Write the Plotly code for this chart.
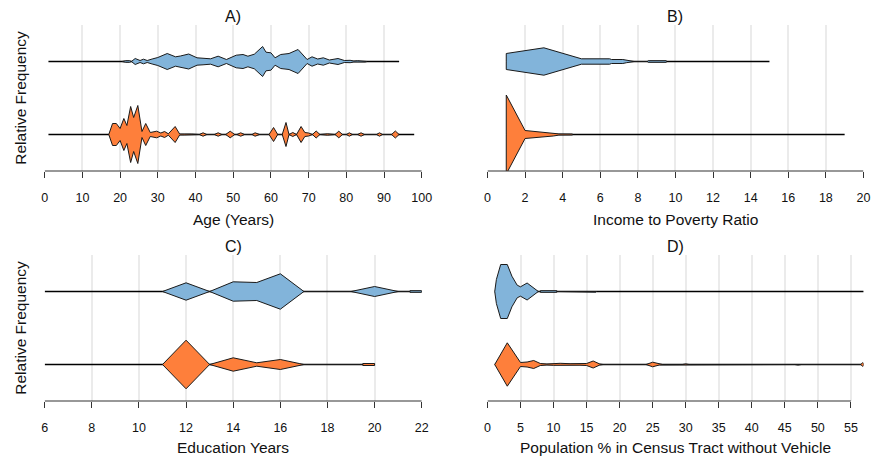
import plotly.graph_objects as go

W, H = 883, 456
BLUE = "#82b4da"
ORANGE = "#fe7f3b"
FONT = "Liberation Sans, Arial, sans-serif"

# relative frequency -> half-width of the violin in y-axis units
WIDTH_SCALE = 1 / 73.0

# ---------------- A) Age ----------------
age_blue_x = [20.5, 21.5, 22.5, 23, 24, 25.3, 26.2, 27.2, 28.5, 30, 32.5, 34.7, 36, 38.2,
              40.4, 42, 44, 46, 48.2, 50.8, 52.6, 53.9, 55.6, 57.8, 58.7, 60, 61.1, 62.6,
              64.8, 67.2, 69.6, 70.9, 72.4, 73.9, 75.5, 77.8, 79.5, 81, 82, 83, 84, 85, 85.5]
age_blue_f = [0, 0.8, 0.8, 0, 3, 1, 2.3, 1, 2.5, 4, 8, 4.7, 5.5, 7.5,
              3.7, 3.3, 2.7, 5.3, 2, 6.3, 7, 5.3, 7.3, 15, 9.3, 8.7, 3.7, 7,
              8, 12, 2, 4.7, 2.5, 3.7, 1.5, 3, 1, 1.2, 0.5, 0.8, 0.3, 0.5, 0]
age_orange_x = [17, 18, 19, 20, 21, 21.8, 22.8, 23.6, 24.7, 25.8, 26.8, 28, 29.7, 30.8, 31.8,
                32.8, 34.6, 35.8, 37, 38, 39, 41, 42, 43, 45, 46, 47, 48, 49.2, 50.4, 51,
                52, 53, 55, 55.8, 57, 59.5, 60.7, 61.8, 63, 64, 64.8, 65.8, 66.8, 68, 69,
                70, 71, 72, 73, 75, 77, 78, 79, 80, 80.8, 81.6, 83, 83.9, 84.8, 88, 88.8,
                89.6, 92, 93, 94]
age_orange_f = [0, 11, 11, 6, 16, 9, 28, 17, 29, 3, 11, 2, 3.3, 1.5, 3,
                0.7, 8, 0.5, 0.5, 0.8, 0.5, 0, 1.7, 0, 0, 1.7, 0, 0, 3.3, 0, 0,
                1.7, 0, 0, 1.7, 0, 0, 7, 0, 0, 12, 0, 2, 0, 8, 2,
                1.5, 0, 3.5, 0, 0.7, 0, 3.3, 0, 0, 1.7, 0, 0, 1.7, 0, 0, 1.7,
                0, 0, 3.5, 0]
age_blue_span = [1, 94]
age_orange_span = [1, 98]
age_ticks = list(range(0, 101, 10))

# ---------------- B) Income to poverty ratio ----------------
ipr_blue_x = [1, 1, 3, 5, 6.5, 6.6, 7.2, 7.4, 7.8, 8.5, 8.55, 9.5, 9.55]
ipr_blue_f = [0, 8, 13.7, 2.7, 2.7, 2, 2, 1.2, 0, 0, 0.8, 0.8, 0]
ipr_orange_x = [1, 1, 2, 3, 3.5, 3.8, 4.5, 4.55]
ipr_orange_f = [0, 39.5, 4, 2.5, 1.5, 0.6, 0.5, 0]
ipr_blue_span = [1, 15]
ipr_orange_span = [1, 19]
ipr_ticks = list(range(0, 21, 2))

# ---------------- C) Education years ----------------
edu_blue_x = [11, 12, 13, 14, 15, 16, 17, 19, 20, 21, 21.5, 21.5, 22]
edu_blue_f = [0, 8.7, 0, 9.7, 9, 17.7, 0, 0, 5, 0, 0, 0.8, 0.8]
edu_orange_x = [11, 12, 13, 14, 15, 16, 16.8, 17, 19.5, 19.5, 20]
edu_orange_f = [0, 24.3, 0, 6.7, 1.7, 5, 1, 0, 0, 1, 1]
edu_blue_span = [6, 22]
edu_orange_span = [6, 20]
edu_ticks = list(range(6, 23, 2))

# ---------------- D) Population % without vehicle ----------------
veh_blue_x = [1.1, 1.35, 2, 3, 3.7, 4.5, 5, 6, 7.7, 8, 8, 10.5, 10.5, 13.5, 13.6, 14.3,
              14.4, 15.5, 15.6, 16.4, 16.5]
veh_blue_f = [0, 12, 27, 27, 15.3, 6.3, 4.7, 8.5, 0, 0, 0.8, 0.8, 0, 0, 0.7, 0.7,
              0, 0, 0.7, 0.7, 0]
veh_orange_x = [1.1, 3, 5, 6, 7, 8, 9, 10, 11, 12.5, 14, 15, 16, 17, 17.5, 24, 25, 26,
                26.5, 29.5, 30, 30.5, 46.5, 47, 47.5, 56.5, 56.8, 57]
veh_orange_f = [0, 21.7, 2, 2.5, 4, 1, 0.5, 0.8, 1.2, 0.8, 0.7, 1, 3.5, 0.5, 0, 0, 2.3, 0.5,
                0, 0, 0.6, 0, 0, 0.6, 0, 0, 2, 0]
veh_blue_span = [1.1, 57]
veh_orange_span = [1.1, 57]
veh_ticks = list(range(0, 56, 5))

# panel layout: pixel boxes of the plotting regions (left, right, top, bottom)
# and the distance from the axis line to the centre of the axis title
panels = [
    dict(ax="", title="A)", xtitle="Age (Years)", box=(42.3, 425, 25, 171), xrange=[0, 100],
         ticks=age_ticks, ylabel=True, title_gap=48,
         blue=(age_blue_x, age_blue_f, age_blue_span),
         orange=(age_orange_x, age_orange_f, age_orange_span)),
    dict(ax="2", title="B)", xtitle="Income to Poverty Ratio", box=(491.7, 873.3, 25, 171),
         xrange=[0, 20], ticks=ipr_ticks, ylabel=False, title_gap=48,
         blue=(ipr_blue_x, ipr_blue_f, ipr_blue_span),
         orange=(ipr_orange_x, ipr_orange_f, ipr_orange_span)),
    dict(ax="3", title="C)", xtitle="Education Years", box=(42.3, 425, 255, 401), xrange=[6, 22],
         ticks=edu_ticks, ylabel=True, title_gap=46,
         blue=(edu_blue_x, edu_blue_f, edu_blue_span),
         orange=(edu_orange_x, edu_orange_f, edu_orange_span)),
    dict(ax="4", title="D)", xtitle="Population % in Census Tract without Vehicle",
         box=(491.7, 873.3, 255, 401), xrange=[0, 56.9], ticks=veh_ticks, ylabel=False,
         title_gap=46,
         blue=(veh_blue_x, veh_blue_f, veh_blue_span),
         orange=(veh_orange_x, veh_orange_f, veh_orange_span)),
]

fig = go.Figure()
annotations = []
shapes = []


def violin_polygon(xs, fs, center):
    top = [center + f * WIDTH_SCALE for f in fs]
    bot = [center - f * WIDTH_SCALE for f in fs[::-1]]
    return list(xs) + list(xs[::-1]) + [xs[0]], top + bot + [top[0]]


for p in panels:
    xa, ya = "x" + p["ax"], "y" + p["ax"]
    l, r, t, b = p["box"]
    xdom = [l / W, r / W]
    ydom = [1 - b / H, 1 - t / H]

    for (xs, fs, span), center, color in ((p["blue"], 2, BLUE), (p["orange"], 1, ORANGE)):
        fig.add_trace(go.Scatter(x=span, y=[center, center], mode="lines",
                                 line=dict(color="black", width=1.3),
                                 xaxis=xa, yaxis=ya, hoverinfo="skip", showlegend=False))
        px_, py_ = violin_polygon(xs, fs, center)
        fig.add_trace(go.Scatter(x=px_, y=py_, mode="lines", fill="toself", fillcolor=color,
                                 line=dict(color="#1a1a1a", width=1),
                                 xaxis=xa, yaxis=ya, hoverinfo="skip", showlegend=False))

    fig.layout["xaxis" + p["ax"]] = dict(
        domain=xdom, range=p["xrange"], anchor=ya, tickvals=p["ticks"],
        ticks="outside", ticklen=6, tickwidth=1, tickcolor="#333",
        showgrid=True, gridcolor="#ebebeb", gridwidth=1.5, zeroline=False, showline=False,
        tickfont=dict(family=FONT, size=12.5, color="#111"), ticklabelstandoff=9,
    )
    fig.layout["yaxis" + p["ax"]] = dict(
        domain=ydom, range=[0.5, 2.5], anchor=xa, showgrid=False, zeroline=False,
        showline=False, showticklabels=False, ticks="",
    )

    # bottom axis line spanning first to last tick
    shapes.append(dict(type="line", xref=xa, yref=ya + " domain",
                       x0=p["ticks"][0], x1=p["ticks"][-1], y0=0, y1=0,
                       line=dict(color="#333", width=1.2), layer="above"))

    cx = (l + r) / 2 / W
    annotations.append(dict(text=p["title"], x=cx, y=1 - (t - 8) / H, xref="paper", yref="paper",
                            xanchor="center", yanchor="middle", showarrow=False,
                            font=dict(family=FONT, size=16, color="#111")))
    annotations.append(dict(text=p["xtitle"], x=cx, y=1 - (b + p["title_gap"]) / H,
                            xref="paper", yref="paper", xanchor="center", yanchor="middle",
                            showarrow=False, font=dict(family=FONT, size=15.5, color="#111")))
    if p["ylabel"]:
        annotations.append(dict(text="Relative Frequency", x=17 / W, y=1 - (t + b) / 2 / H,
                                xref="paper", yref="paper", xanchor="center", yanchor="middle",
                                textangle=-90, showarrow=False,
                                font=dict(family=FONT, size=15.5, color="#111")))

fig.update_layout(
    width=W, height=H, margin=dict(l=0, r=0, t=0, b=0),
    paper_bgcolor="white", plot_bgcolor="white",
    annotations=annotations, shapes=shapes, showlegend=False,
)

fig.write_html("out.html")
